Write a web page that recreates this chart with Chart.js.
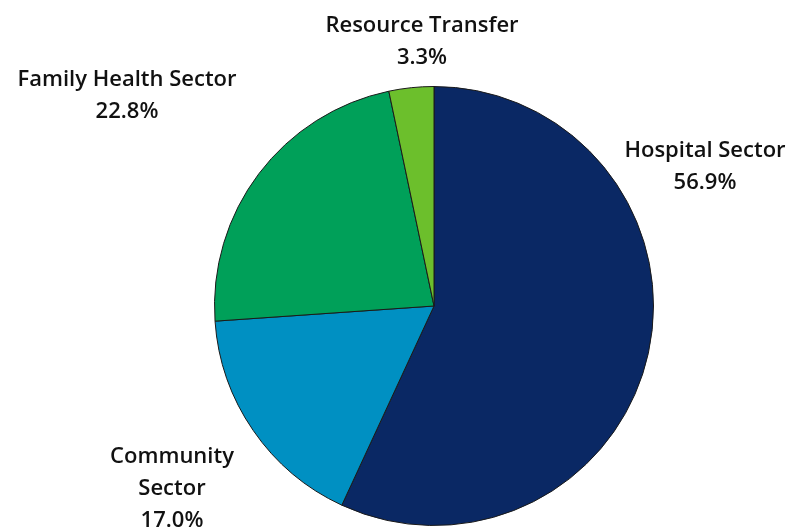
<!DOCTYPE html>
<html>
<head>
<meta charset="utf-8">
<script src="https://cdn.jsdelivr.net/npm/chart.js@4/dist/chart.umd.min.js"></script>
<style>
  html, body { margin: 0; padding: 0; background: #fff; }
  #wrap { width: 790px; height: 527px; }
</style>
</head>
<body>
<div id="wrap"><canvas id="chart" width="790" height="527"></canvas></div>
<script>
const sectors = ['Hospital Sector', 'Community Sector', 'Family Health Sector', 'Resource Transfer'];
const shares = [56.9, 17.0, 22.8, 3.3];
const sliceColors = ['#0a2864', '#0090c2', '#00a059', '#6cbf2c'];

// label text lines and where they sit on the canvas
const labelLines = [
  ['Hospital Sector', '56.9%'],
  ['Community', 'Sector', '17.0%'],
  ['Family Health Sector', '22.8%'],
  ['Resource Transfer', '3.3%']
];
const labelPos = [
  { x: 705, y: 151 },
  { x: 172, y: 457 },
  { x: 127, y: 80 },
  { x: 422, y: 26 }
];

const outsideLabels = {
  id: 'outsideLabels',
  afterDraw(chart) {
    const ctx = chart.ctx;
    ctx.save();
    ctx.fillStyle = '#111';
    ctx.font = '600 22px "Open Sans", sans-serif';
    ctx.textAlign = 'center';
    ctx.textBaseline = 'middle';
    labelLines.forEach((lines, i) => {
      lines.forEach((t, j) => ctx.fillText(t, labelPos[i].x, labelPos[i].y + j * 32));
    });
    ctx.restore();
  }
};

new Chart(document.getElementById('chart'), {
  type: 'pie',
  data: {
    labels: sectors,
    datasets: [{
      data: shares,
      backgroundColor: sliceColors,
      borderColor: '#1a1a1a',
      borderWidth: 1
    }]
  },
  options: {
    responsive: false,
    animation: false,
    layout: { padding: { top: 86, bottom: 1, left: 78, right: 0 } },
    plugins: {
      legend: { display: false },
      tooltip: { enabled: false }
    }
  },
  plugins: [outsideLabels]
});
</script>
</body>
</html>
